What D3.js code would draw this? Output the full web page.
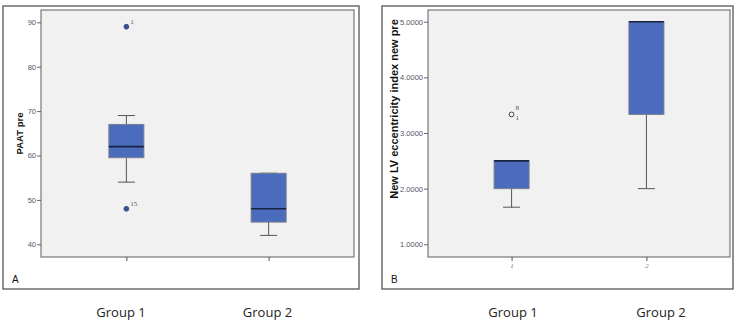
<!DOCTYPE html>
<html>
<head>
<meta charset="utf-8">
<script src="https://cdn.jsdelivr.net/npm/d3@7"></script>
<style>
  body { margin: 0; background: #fff; }
  svg { display: block; }
</style>
</head>
<body>
<div id="chart-area"></div>
<script>
var width = 740;
var height = 327;

// data
var groups = ["1", "2"];
var groupNames = ["Group 1", "Group 2"];

// PAAT pre (panel A)
var paatMin = [54, 42];
var paatQ1 = [59.5, 45];
var paatMedian = [62, 48];
var paatQ3 = [67, 56];
var paatMax = [69, 56];
var paatOutliers = [
  { group: "1", value: 89, labels: ["1"] },
  { group: "1", value: 48, labels: ["15"] }
];
var paatTicks = [40, 50, 60, 70, 80, 90];

// New LV eccentricity index (panel B)
var lvMin = [1.6667, 2.0];
var lvQ1 = [2.0, 3.3333];
var lvMedian = [2.5, 5.0];
var lvQ3 = [2.5, 5.0];
var lvMax = [2.5, 5.0];
var lvOutliers = [
  { group: "1", value: 3.3333, labels: ["8", "1"] }
];
var lvTicks = [1, 2, 3, 4, 5];

var svg = d3.select("#chart-area")
  .append("svg")
  .attr("width", width)
  .attr("height", height);

var panels = [
  {
    letter: "A",
    frame: [3, 6, 359, 289],
    plot: [41, 10, 354, 257],
    yRange: [244.3, 22.3],
    yDomain: [40, 90],
    ticks: paatTicks,
    fmt: d3.format("d"),
    title: "PAAT pre",
    titleSize: "9.5px",
    titleY: 133.5,
    mins: paatMin, q1s: paatQ1, meds: paatMedian, q3s: paatQ3, maxs: paatMax,
    outliers: paatOutliers,
    filledOutliers: true,
    xLabels: false,
    pad: 0.6,
    titleX: 20
  },
  {
    letter: "B",
    frame: [382, 6, 733, 289],
    plot: [428, 10, 730, 257],
    yRange: [244.3, 21.7],
    yDomain: [1, 5],
    ticks: lvTicks,
    fmt: d3.format(".4f"),
    title: "New LV eccentricity index new pre",
    titleSize: "11px",
    titleY: 109,
    mins: lvMin, q1s: lvQ1, meds: lvMedian, q3s: lvQ3, maxs: lvMax,
    outliers: lvOutliers,
    filledOutliers: false,
    xLabels: true,
    pad: 0.62,
    titleX: 394
  }
];

panels.forEach(function(p) {
  var g = svg.append("g");

  // outer frame
  g.append("rect")
    .attr("x", p.frame[0])
    .attr("y", p.frame[1])
    .attr("width", p.frame[2] - p.frame[0])
    .attr("height", p.frame[3] - p.frame[1])
    .attr("fill", "#fff")
    .attr("stroke", "#555")
    .attr("stroke-width", 1.3);

  // plot area
  g.append("rect")
    .attr("x", p.plot[0])
    .attr("y", p.plot[1])
    .attr("width", p.plot[2] - p.plot[0])
    .attr("height", p.plot[3] - p.plot[1])
    .attr("fill", "#f1f1f1")
    .attr("stroke", "#777")
    .attr("stroke-width", 1.2);

  var x = d3.scalePoint()
    .domain(groups)
    .range([p.plot[0], p.plot[2]])
    .padding(p.pad);

  var y = d3.scaleLinear()
    .domain(p.yDomain)
    .range(p.yRange);

  // y axis
  var yAxis = d3.axisLeft(y)
    .tickValues(p.ticks)
    .tickFormat(p.fmt)
    .tickSize(4)
    .tickPadding(1);

  var ya = g.append("g")
    .attr("transform", "translate(" + p.plot[0] + ",0)")
    .call(yAxis);
  ya.select(".domain").remove();
  ya.selectAll("line").attr("stroke", "#666");
  ya.selectAll("text")
    .attr("fill", "#556")
    .style("font-family", "Liberation Sans, Arial, sans-serif")
    .style("font-size", "7.5px");

  // x axis
  var xAxis = d3.axisBottom(x)
    .tickSize(4)
    .tickPadding(2)
    .tickFormat(p.xLabels ? function(d) { return d; } : "");

  var xa = g.append("g")
    .attr("transform", "translate(0," + p.plot[3] + ")")
    .call(xAxis);
  xa.select(".domain").remove();
  xa.selectAll("line").attr("stroke", "#555");
  xa.selectAll("text")
    .attr("fill", "#777")
    .style("font-family", "Liberation Serif, serif")
    .style("font-style", "italic")
    .style("font-size", "7px");

  // y title
  g.append("text")
    .attr("transform", "translate(" + p.titleX + "," + p.titleY + ") rotate(-90)")
    .attr("text-anchor", "middle")
    .attr("dy", "0.35em")
    .style("font-family", "Liberation Sans, Arial, sans-serif")
    .style("font-weight", "bold")
    .style("font-size", p.titleSize)
    .attr("fill", "#111")
    .text(p.title);

  // panel letter
  g.append("text")
    .attr("x", p.frame[0] + 9)
    .attr("y", p.frame[3] - 6)
    .style("font-family", "Liberation Sans, Arial, sans-serif")
    .style("font-size", "10px")
    .attr("fill", "#111")
    .text(p.letter);

  var boxW = 35;
  var capW = 17;

  groups.forEach(function(gr, i) {
    var cx = x(gr);

    // whiskers
    g.append("line")
      .attr("x1", cx).attr("x2", cx)
      .attr("y1", y(p.mins[i])).attr("y2", y(p.q1s[i]))
      .attr("stroke", "#555").attr("stroke-width", 1);
    g.append("line")
      .attr("x1", cx).attr("x2", cx)
      .attr("y1", y(p.q3s[i])).attr("y2", y(p.maxs[i]))
      .attr("stroke", "#555").attr("stroke-width", 1);
    [p.mins[i], p.maxs[i]].forEach(function(v) {
      g.append("line")
        .attr("x1", cx - capW / 2).attr("x2", cx + capW / 2)
        .attr("y1", y(v)).attr("y2", y(v))
        .attr("stroke", "#555").attr("stroke-width", 1);
    });

    // box
    g.append("rect")
      .attr("x", cx - boxW / 2)
      .attr("y", y(p.q3s[i]))
      .attr("width", boxW)
      .attr("height", y(p.q1s[i]) - y(p.q3s[i]))
      .attr("fill", "#4b6cbd")
      .attr("stroke", "#7a7f8c")
      .attr("stroke-width", 1);

    // median
    g.append("line")
      .attr("x1", cx - boxW / 2).attr("x2", cx + boxW / 2)
      .attr("y1", y(p.meds[i])).attr("y2", y(p.meds[i]))
      .attr("stroke", "#16223f").attr("stroke-width", 1.6);
  });

  // outliers
  p.outliers.forEach(function(o) {
    var cx = x(o.group);
    var cy = y(o.value);
    g.append("circle")
      .attr("cx", cx).attr("cy", cy)
      .attr("r", 2.4)
      .attr("fill", p.filledOutliers ? "#3b4e8e" : "none")
      .attr("stroke", p.filledOutliers ? "#3b4e8e" : "#444")
      .attr("stroke-width", 1);

    o.labels.forEach(function(lbl, k) {
      var dy = o.labels.length === 1 ? -3 : (k === 0 ? -4 : 6);
      g.append("text")
        .attr("x", cx + 4)
        .attr("y", cy + dy)
        .style("font-family", "Liberation Serif, serif")
        .style("font-size", "7px")
        .attr("fill", "#555")
        .text(lbl);
    });
  });
});

// group names under the panels
var nameX = [
  d3.scaleLinear().domain([0, 1]).range([121, 267.5]),
  d3.scaleLinear().domain([0, 1]).range([513, 661])
];
nameX.forEach(function(sc) {
  svg.selectAll(null)
    .data(groupNames)
    .enter()
    .append("text")
    .attr("x", function(d, i) { return sc(i); })
    .attr("y", 317)
    .attr("text-anchor", "middle")
    .style("font-family", "Open Sans, sans-serif")
    .style("font-size", "13px")
    .attr("fill", "#222")
    .text(function(d) { return d; });
});
</script>
</body>
</html>
